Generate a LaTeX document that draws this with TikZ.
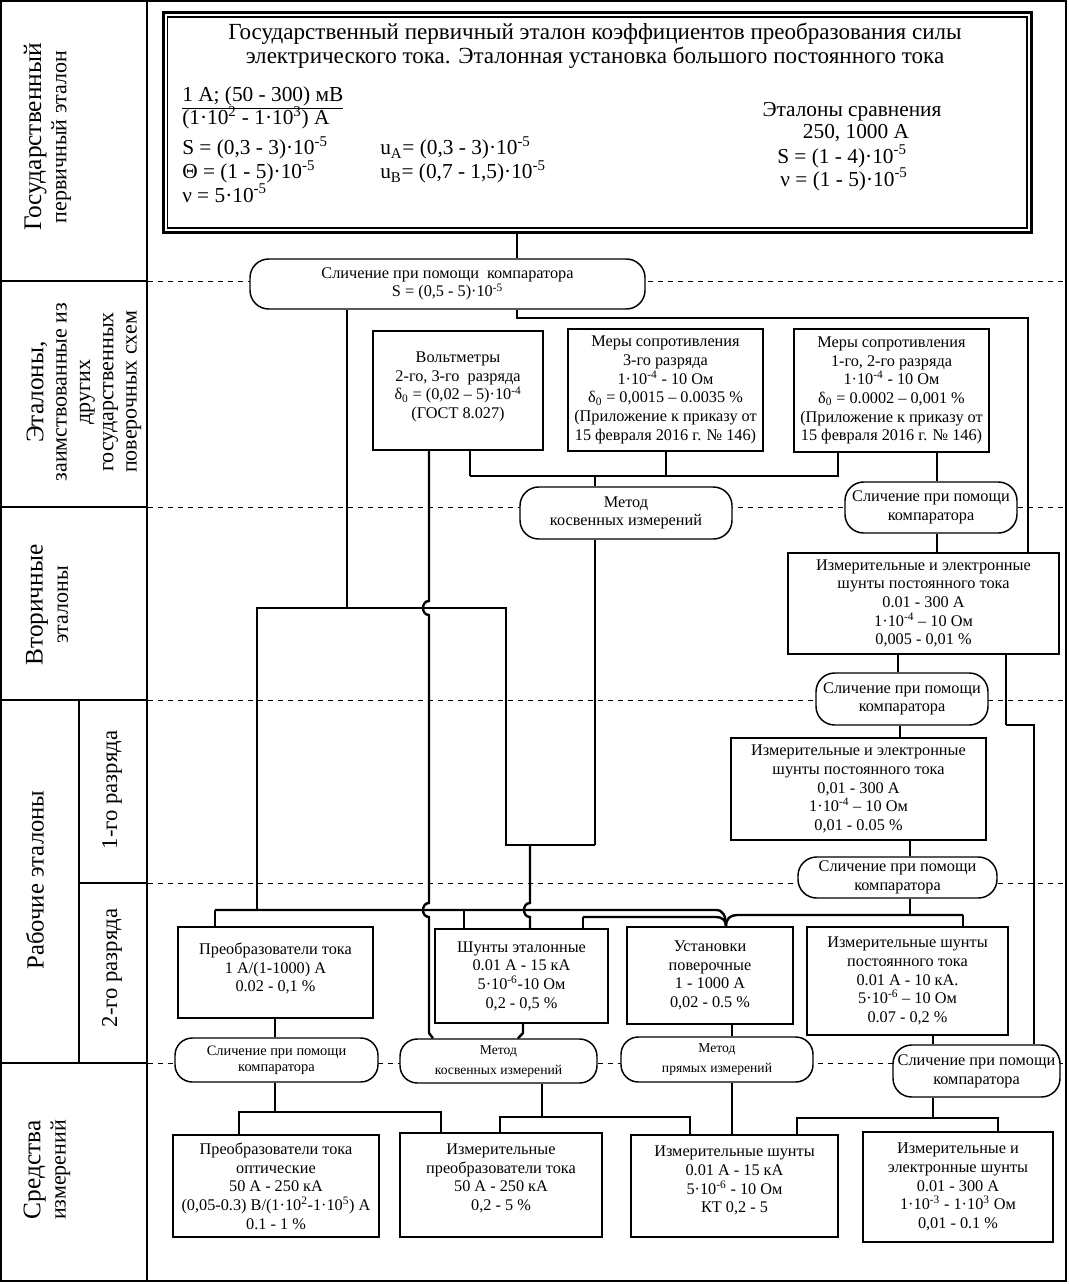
\documentclass[tikz,border=0pt]{standalone}
\usepackage{fontspec}
\setmainfont{Liberation Serif}
\usetikzlibrary{backgrounds}
\begin{document}
\begin{tikzpicture}[x=0.75pt,y=-0.75pt,
  sz/.style 2 args={minimum width=#1*0.75pt,minimum height=#2*0.75pt},
  bx/.style={draw,line width=1.3pt,inner sep=0pt,align=center,font=\fontsize{12.2}{14}\selectfont},
  ov/.style={draw,line width=1.1pt,fill=white,rounded corners=14pt,inner sep=0pt,align=center,font=\fontsize{12.2}{14}\selectfont},
  ovs/.style={ov,rounded corners=13pt,font=\fontsize{10.8}{12}\selectfont},
  ovm/.style={ov,rounded corners=13pt,font=\fontsize{10.2}{15}\selectfont},
  thk/.style={line width=1.8pt},
  thn/.style={line width=0.9pt},
  dsh/.style={line width=0.75pt,dash pattern=on 3.75pt off 3.75pt},
  frm/.style={line width=1.6pt},
  lab/.style={rotate=90,align=center,inner sep=0pt,font=\fontsize{16.5}{17.5}\selectfont},
  tp/.style={inner sep=0pt,font=\fontsize{16}{18}\selectfont},
  tr/.style={inner sep=0pt,font=\fontsize{16}{18}\selectfont,anchor=base},
]
\useasboundingbox (0,0) rectangle (1069,1284);
% frame and left column
\draw[frm] (1,1) rectangle (1066,1281);
\draw[frm] (147,1) -- (147,1281);
\foreach \yy in {281,507,700,1063} \draw[frm] (1,\yy) -- (147,\yy);
\draw[line width=0.9pt] (79,700) -- (79,1063);
\draw[line width=0.9pt] (79,883) -- (147,883);
% left labels
\node[lab,font=\fontsize{16.5}{19}\selectfont] (L1) at (47.5,137) {{\fontsize{19}{19}\selectfont Государственный}\\первичный эталон};
\node[lab] (L2) at (84,392) {{\fontsize{19}{17.5}\selectfont Эталоны,}\\заимствованные из\\других\\государственных\\поверочных схем};
\node[lab,font=\fontsize{16.5}{19}\selectfont] (L3) at (47,605) {{\fontsize{19}{19}\selectfont Вторичные}\\эталоны};
\node[lab] (L4) at (35,880) {{\fontsize{18.5}{19}\selectfont Рабочие эталоны}};
\node[lab,font=\fontsize{17}{18}\selectfont] (L5) at (112,790) {1-го разряда};
\node[lab,font=\fontsize{17}{18}\selectfont] (L6) at (112,968) {2-го разряда};
\node[lab,font=\fontsize{16.5}{19}\selectfont] (L7) at (47,1170) {{\fontsize{19}{19}\selectfont Средства}\\измерений};
% top box
\node[draw,line width=2.4pt,sz={868}{220},inner sep=0pt] (top) at (597.25,122.25) {};
\draw[line width=1.2pt] (167.5,17) rectangle (1027,228);
\node[tp,font=\fontsize{17.3}{18}\selectfont,align=center] (ttl) at (595,46) {Государственный первичный эталон коэффициентов преобразования силы\\электрического тока. Эталонная установка большого постоянного тока};
\node[tp,anchor=base west] (p1) at (182,102) {\underline{1 А; (50 - 300) мВ}};
\node[tp,anchor=base west] (p2) at (182,125) {(1·10\textsuperscript{2} - 1·10\textsuperscript{3}) А};
\node[tp,anchor=base west] (p3) at (182,155) {S = (0,3 - 3)·10\textsuperscript{-5}};
\node[tp,anchor=base west] (p4) at (182,179) {Θ = (1 - 5)·10\textsuperscript{-5}};
\node[tp,anchor=base west] (p5) at (182,202) {ν = 5·10\textsuperscript{-5}};
\node[tp,anchor=base west] (p6) at (380,155) {u\textsubscript{A}= (0,3 - 3)·10\textsuperscript{-5}};
\node[tp,anchor=base west] (p7) at (380,179) {u\textsubscript{B}= (0,7 - 1,5)·10\textsuperscript{-5}};
\node[tr] (r1) at (852,117) {Эталоны сравнения};
\node[tr] (r2) at (856,139) {250, 1000 А};
\node[tr] (r3) at (842,163) {S = (1 - 4)·10\textsuperscript{-5}};
\node[tr] (r4) at (844,186) {ν = (1 - 5)·10\textsuperscript{-5}};
% main nodes
\node[ov,sz={395}{50}] (O1) at (447.5,284) {Сличение при помощи\ \ компаратора\\S = (0,5 - 5)·10\textsuperscript{-5}};
\node[bx,sz={170}{119}] (V) at (458,390.5) {Вольтметры\\2-го, 3-го\ \ разряда\\δ\textsubscript{0} = (0,02 – 5)·10\textsuperscript{-4}\\(ГОСТ 8.027)\\[-6pt]\mbox{}};
\node[bx,sz={195}{122}] (M3) at (665.5,390) {Меры сопротивления\\3-го разряда\\1·10\textsuperscript{-4} - 10 Ом\\δ\textsubscript{0} = 0,0015 – 0.0035 \%\\(Приложение к приказу от\\15 февраля 2016 г. № 146)};
\node[bx,sz={195}{123}] (M1) at (891.5,390.5) {Меры сопротивления\\1-го, 2-го разряда\\1·10\textsuperscript{-4} - 10 Ом\\δ\textsubscript{0} = 0.0002 – 0,001 \%\\(Приложение к приказу от\\15 февраля 2016 г. № 146)};
\node[ov,sz={212}{52}] (OM) at (626,513) {Метод\\косвенных измерений};
\node[ov,sz={172}{51}] (OS1) at (931,507.5) {Сличение при помощи\\компаратора};
\node[bx,sz={271}{101}] (S1) at (923.5,603.5) {Измерительные и электронные\\шунты постоянного тока\\0.01 - 300 А\\1·10\textsuperscript{-4} – 10 Ом\\0,005 - 0,01 \%};
\node[ov,sz={172}{52}] (OS2) at (902,699) {Сличение при помощи\\компаратора};
\node[bx,sz={255}{102}] (S2) at (858.5,789) {Измерительные и электронные\\шунты постоянного тока\\0,01 - 300 А\\1·10\textsuperscript{-4} – 10 Ом\\0,01 - 0.05 \%};
\node[ov,sz={199}{41}] (OS3) at (897.5,877.5) {Сличение при помощи\\компаратора};
\node[bx,sz={195}{91}] (P) at (275.5,972.5) {Преобразователи тока\\1 А/(1-1000) А\\0.02 - 0,1 \%\\[-6pt]\mbox{}};
\node[bx,sz={173}{94}] (SE) at (521.5,976) {Шунты эталонные\\0.01 А - 15 кА\\5·10\textsuperscript{-6}-10 Ом\\0,2 - 0,5 \%};
\node[bx,sz={166}{97}] (U) at (710,975.5) {Установки\\поверочные\\1 - 1000 А\\0,02 - 0.5 \%};
\node[bx,sz={201}{108}] (IS) at (907.5,981) {Измерительные шунты\\постоянного тока\\0.01 А - 10 кА.\\5·10\textsuperscript{-6} – 10 Ом\\0.07 - 0,2 \%};
\node[ovs,sz={203}{44}] (Ob1) at (276.5,1060) {Сличение при помощи\\компаратора};
\node[ovm,sz={197}{44}] (Ob2) at (498.5,1061) {Метод\\косвенных измерений};
\node[ovm,sz={192}{45}] (Ob3) at (717,1059.5) {Метод\\прямых измерений};
\node[ov,sz={167}{52}] (Ob4) at (976.5,1071) {Сличение при помощи\\компаратора};
\node[bx,sz={206}{102}] (B1) at (276,1186) {Преобразователи тока\\оптические\\50 А - 250 кА\\(0,05-0.3) В/(1·10\textsuperscript{2}-1·10\textsuperscript{5}) А\\0.1 - 1 \%};
\node[bx,sz={202}{104}] (B2) at (501,1185) {Измерительные\\преобразователи тока\\50 А - 250 кА\\0,2 - 5 \%\\[-2pt]\mbox{}};
\node[bx,sz={207}{102}] (B3) at (734.5,1186) {Измерительные шунты\\0.01 А - 15 кА\\5·10\textsuperscript{-6} - 10 Ом\\КТ 0,2 - 5\\[-4pt]\mbox{}};
\node[bx,sz={190}{110}] (B4) at (958,1187) {Измерительные и\\электронные шунты\\0.01 - 300 А\\1·10\textsuperscript{-3} - 1·10\textsuperscript{3} Ом\\0,01 - 0.1 \%};
% dashed level lines
\begin{scope}[on background layer]
\foreach \yy in {281,507,700,883,1063} \draw[dsh] (148,\yy) -- (1066,\yy);
\end{scope}
% connectors
\coordinate (a1) at (517,318);
\coordinate (a2) at (1028,318);
\draw[thk] (top.south -| a1) -- (O1.north -| a1);
\draw[thk] (O1.south -| a1) -- (a1) -- (a2) -- (S1.north -| a2);
\coordinate (b1) at (347,608);
\coordinate (b2) at (257,608);
\coordinate (b3) at (506,608);
\coordinate (b4) at (257,910);
\coordinate (b5) at (506,845);
\coordinate (b6) at (595,845);
\coordinate (b7) at (530,845);
\draw[thn] (O1.south -| b1) -- (b1);
\draw[thk] (b4) -- (b2) -- (b3) -- (b5) -- (b6);
\draw[thk] (OM.south -| b6) -- (b6);
\draw[thk] (b7) -- (530,903) .. controls (522,903) and (522,917) .. (530,917) -- (SE.north -| b7);
\coordinate (c1) at (429,601);
\coordinate (c2) at (433,1000);
\draw[thk] (V.south -| c1) -- (c1) .. controls (421,601) and (421,615) .. (429,615) -- (429,903) .. controls (421,903) and (421,917) .. (429,917) -- (429,1033) -- (Ob2.north -| c2);
\coordinate (d1) at (470,476);
\coordinate (d2) at (838,476);
\coordinate (d3) at (666,476);
\coordinate (d4) at (595,476);
\draw[thn] (V.south -| d1) -- (d1);
\draw[thk] (d1) -- (d2) -- (M1.south -| d2);
\draw[thn] (M3.south -| d3) -- (d3);
\draw[thn] (d4) -- (OM.north -| d4);
\coordinate (e1) at (937,0);
\coordinate (e2) at (898,0);
\coordinate (e3) at (900,0);
\coordinate (e4) at (910,915);
\coordinate (e5) at (1006,725);
\coordinate (e6) at (1034,725);
\draw[thn] (M1.south -| e1) -- (OS1.north -| e1);
\draw[thk] (OS1.south -| e1) -- (S1.north -| e1);
\draw[thk] (S1.south -| e2) -- (OS2.north -| e2);
\draw[thn] (OS2.south -| e3) -- (S2.north -| e3);
\draw[thk] (S2.south -| e4) -- (OS3.north -| e4);
\draw[thk] (OS3.south -| e4) -- (e4);
\draw[thk] (S1.south -| e5) -- (e5);
\draw[thn] (e5) -- (e6) -- (Ob4.north -| e6);
\coordinate (f1) at (963,915);
\coordinate (f2) at (726,927);
\draw[thk] (f1) -- (737,915) .. controls (730,915) and (726,919) .. (U.north -| f2);
\draw[thn] (f1) -- (IS.north -| f1);
\coordinate (g1) at (215,910);
\coordinate (g2) at (464,910);
\coordinate (g3) at (583,917);
\draw[thk] (g1) -- (716,910) .. controls (723,910) and (726,916) .. (U.north -| f2);
\draw[thn] (g1) -- (P.north -| g1);
\draw[thn] (g2) -- (SE.north -| g2);
\draw[thn] (SE.north -| g3) -- (g3);
\draw[thk] (g3) -- (716,917) .. controls (722,917) and (726,920) .. (U.north -| f2);
\coordinate (h1) at (275,1112);
\coordinate (h2) at (239,1112);
\coordinate (h3) at (441,1112);
\draw[thn] (P.south -| h1) -- (Ob1.north -| h1);
\draw[thn] (Ob1.south -| h1) -- (h1);
\draw[thk] (B1.north -| h2) -- (h2) -- (h3) -- (B2.north -| h3);
\coordinate (i1) at (523,1033);
\coordinate (i2) at (518,1000);
\coordinate (i3) at (542,1117);
\coordinate (i4) at (500,1117);
\coordinate (i5) at (690,1117);
\draw[thk] (SE.south -| i1) -- (i1) -- (Ob2.north -| i2);
\draw[thk] (Ob2.south -| i3) -- (i3);
\draw[thk] (B2.north -| i4) -- (i4) -- (i5) -- (B3.north -| i5);
\coordinate (j1) at (732,0);
\draw[thk] (U.south -| j1) -- (Ob3.north -| j1);
\draw[thk] (Ob3.south -| j1) -- (B3.north -| j1);
\coordinate (k1) at (933,1118);
\coordinate (k2) at (797,1118);
\coordinate (k3) at (998,1118);
\draw[thn] (IS.south -| k1) -- (Ob4.north -| k1);
\draw[thn] (Ob4.south -| k1) -- (k1);
\draw[thk] (B3.north -| k2) -- (k2) -- (k3) -- (B4.north -| k3);
\end{tikzpicture}
\end{document}
